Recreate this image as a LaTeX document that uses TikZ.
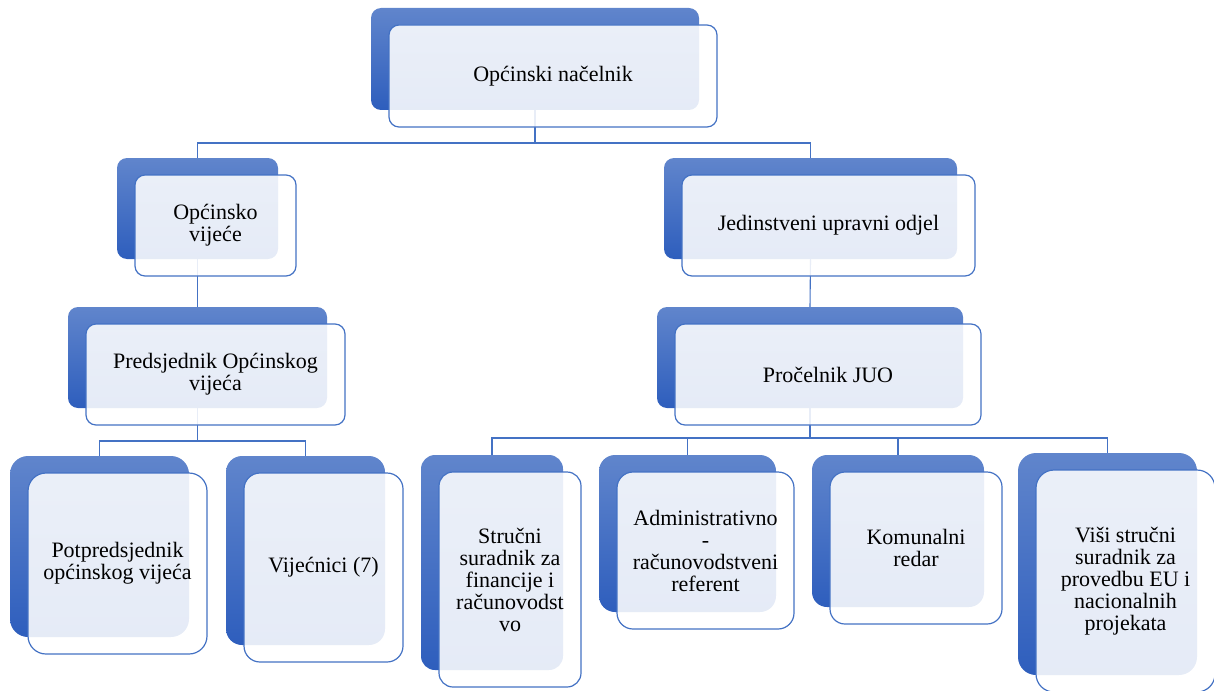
\documentclass[tikz,border=0pt]{standalone}
\usepackage{fontspec}
\setmainfont{Liberation Serif}
\definecolor{boxtop}{RGB}{96,133,204}
\definecolor{boxbot}{RGB}{46,94,189}
\definecolor{rim}{RGB}{68,114,196}
\tikzset{
  back/.style={rectangle,rounded corners=#1,top color=boxtop,bottom color=boxbot,inner sep=0pt},
  back/.default=10pt,
  front/.style={rectangle,rounded corners=#1,draw=rim,line width=1.2pt,fill=white,fill opacity=0.88,
    text opacity=1,text=black,align=center,inner sep=0pt,font=\fontsize{22}{22}\selectfont},
  front/.default=10pt,
  link/.style={draw=rim,line width=1.1pt}
}
\begin{document}
\begin{tikzpicture}[x=1pt,y=-1pt]
\useasboundingbox (0,0) rectangle (1214,690);
\clip (0,0) rectangle (1214,690);

\node[back,minimum width=328,minimum height=102] (nac-b) at (535,59) {};
\node[back,minimum width=161,minimum height=101] (vij-b) at (197.5,208.5) {};
\node[back,minimum width=293,minimum height=101] (juo-b) at (810.5,208.5) {};
\node[back,minimum width=259,minimum height=101] (pred-b) at (197.5,357.5) {};
\node[back,minimum width=306,minimum height=101] (proc-b) at (810,357.5) {};
\node[back=18pt,minimum width=179,minimum height=181] (potp-b) at (99.5,546.5) {};
\node[back=16pt,minimum width=159,minimum height=189] (vijc-b) at (305.5,550.5) {};
\node[back=14pt,minimum width=142,minimum height=215] (strc-b) at (492,562.5) {};
\node[back=16pt,minimum width=177,minimum height=157] (adm-b) at (687.5,533.5) {};
\node[back=15pt,minimum width=172,minimum height=152] (kom-b) at (898,531) {};
\node[back=18pt,minimum width=179,minimum height=222] (visi-b) at (1107.5,564) {};

\coordinate (busA) at (535,143);
\coordinate (busC) at (197.5,441);
\coordinate (busD) at (810,438);
\draw[link] (nac-b.south) -- (busA);
\draw[link] (busA) -| (vij-b.north);
\draw[link] (busA) -| (juo-b.north);
\draw[link] (vij-b.south) -- (pred-b.north);
\draw[link] (juo-b.south) -- (proc-b.north);
\draw[link] (pred-b.south) -- (busC);
\draw[link] (busC) -| (potp-b.north);
\draw[link] (busC) -| (vijc-b.north);
\draw[link] (proc-b.south) -- (busD);
\draw[link] (busD) -| (strc-b.north);
\draw[link] (busD) -| (adm-b.north);
\draw[link] (busD) -| (kom-b.north);
\draw[link] (busD) -| (visi-b.north);

\node[front,minimum width=328,minimum height=102] (nac) at ([shift={(18,17)}]nac-b) {Općinski načelnik};
\node[front,minimum width=161,minimum height=101] (vij) at ([shift={(18,17)}]vij-b) {Općinsko\\vijeće};
\node[front,minimum width=293,minimum height=101] (juo) at ([shift={(18,17)}]juo-b) {Jedinstveni upravni odjel};
\node[front,minimum width=259,minimum height=101] (pred) at ([shift={(18,17)}]pred-b) {Predsjednik Općinskog\\vijeća};
\node[front,minimum width=306,minimum height=101] (proc) at ([shift={(18,17)}]proc-b) {Pročelnik JUO};
\node[front=18pt,minimum width=179,minimum height=181] (potp) at ([shift={(18,17)}]potp-b) {Potpredsjednik\\općinskog vijeća};
\node[front=16pt,minimum width=159,minimum height=189] (vijc) at ([shift={(18,17)}]vijc-b) {Vijećnici (7)};
\node[front=14pt,minimum width=142,minimum height=215] (strc) at ([shift={(18,17)}]strc-b) {Stručni\\suradnik za\\financije i\\računovodst\\vo};
\node[front=16pt,minimum width=177,minimum height=157] (adm) at ([shift={(18,17)}]adm-b) {Administrativno\\-\\računovodstveni\\referent};
\node[front=15pt,minimum width=172,minimum height=152] (kom) at ([shift={(18,17)}]kom-b) {Komunalni\\redar};
\node[front=18pt,minimum width=179,minimum height=222] (visi) at ([shift={(18,17)}]visi-b) {Viši stručni\\suradnik za\\provedbu EU i\\nacionalnih\\projekata};

\end{tikzpicture}
\end{document}
